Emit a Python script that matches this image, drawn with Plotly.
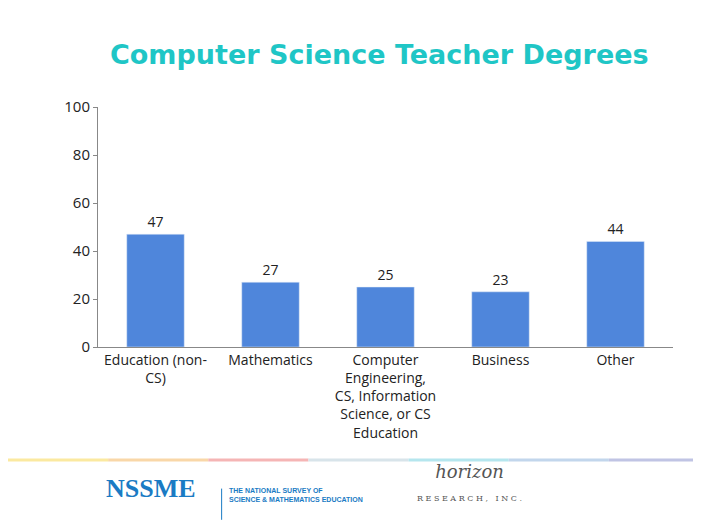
import plotly.graph_objects as go

categories = ["Education (non-<br>CS)", "Mathematics",
              "Computer<br>Engineering,<br>CS, Information<br>Science, or CS<br>Education",
              "Business", "Other"]
values = [47, 27, 25, 23, 44]

fig = go.Figure(go.Bar(
    x=categories, y=values, text=values, textposition="outside",
    marker_color="#4F86DB", width=0.5,
    textfont=dict(size=14, color="#222"), cliponaxis=False,
))

# footer gradient line made of segments
grad = ["#FBE9A0", "#F9D7A8", "#F5B5B5", "#D8E4EA", "#B5E6EE", "#C2D6EC", "#C0C4E4"]
n = len(grad)
for i, c in enumerate(grad):
    fig.add_shape(type="line", xref="paper", yref="paper",
                  x0=-90/575 + i*701/575/n, x1=-90/575 + (i+1)*701/575/n,
                  y0=-113/240, y1=-113/240, line=dict(color=c, width=3))

fig.add_annotation(text="<b>Computer Science Teacher Degrees</b>", xref="paper", yref="paper",
                   x=0.49, y=1.22, showarrow=False, yanchor="middle",
                   font=dict(size=27, color="#1FC6C6", family="DejaVu Sans"))
fig.add_annotation(text="<b>NSSME</b>", xref="paper", yref="paper", x=0.01, y=-0.66, showarrow=False,
                   xanchor="left", font=dict(size=26, color="#1A7BC4", family="Liberation Serif"))
fig.add_annotation(text="<b>THE NATIONAL SURVEY OF<br>SCIENCE & MATHEMATICS EDUCATION</b>", xref="paper",
                   yref="paper", x=0.225, y=-0.66, showarrow=False, xanchor="left", align="left",
                   font=dict(size=7, color="#1A7BC4", family="Liberation Sans"))
fig.add_shape(type="line", xref="paper", yref="paper", x0=0.215, x1=0.215, y0=-0.59, y1=-0.72,
              line=dict(color="#1A7BC4", width=1))
fig.add_annotation(text="<i>horizon</i><br><span style='font-size:8px'>R E S E A R C H ,   I N C .</span>",
                   xref="paper", yref="paper", x=0.74, y=-0.66, showarrow=False,
                   font=dict(size=18, color="#555", family="DejaVu Serif"))

fig.update_layout(
    width=701, height=522, margin=dict(l=90, r=36, t=99, b=183),
    plot_bgcolor="white", paper_bgcolor="white", showlegend=False,
    font=dict(family="Open Sans", size=14, color="#222"),
    yaxis=dict(range=[0, 100], dtick=20, showgrid=False, showline=True, linecolor="#888",
               ticks="outside", ticklen=4, tickcolor="#888", tickfont=dict(size=15)),
    xaxis=dict(showline=True, linecolor="#888", ticks="", tickfont=dict(size=14)),
)
fig.write_html("out.html")
